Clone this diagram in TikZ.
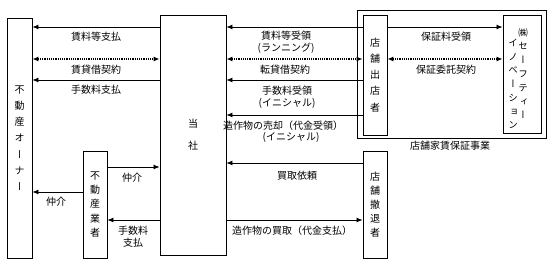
\documentclass[tikz,border=0pt]{standalone}
\usepackage{fontspec}
\setmainfont{Noto Sans CJK JP}
\newfontfamily\vjp[RawFeature=+vert]{Noto Sans CJK JP}
\newfontfamily\hjp{Noto Sans CJK JP}
\usetikzlibrary{arrows.meta}
\begin{document}
\begin{tikzpicture}[x=1pt,y=-1pt,
  box/.style={draw,line width=0.9pt,inner sep=0pt,align=center},
  lbl/.style={inner sep=0pt,align=center,font=\fontsize{10}{11.5}\selectfont},
  arr/.style={line width=0.85pt,-{Latex[length=6pt,width=5pt]}},
  dotarr/.style={line width=1.2pt,dash pattern=on 1.1pt off 1.1pt,{Latex[length=6pt,width=5pt]}-{Latex[length=6pt,width=5pt]}}]
\useasboundingbox (0,0) rectangle (554,267);
% frame
\node[draw,line width=0.9pt,minimum width=189pt,minimum height=128pt,inner sep=0pt] (frame) at (451.5,74) {};
% boxes
\node[box,minimum width=25pt,minimum height=240pt,font=\vjp\fontsize{10}{16.2}\selectfont] (owner) at (19.5,138) {不\\動\\産\\オ\\ー\\ナ\\ー};
\node[box,minimum width=66pt,minimum height=240pt,font=\fontsize{10}{22}\selectfont] (tosha) at (193,135) {当\\社};
\node[box,minimum width=24pt,minimum height=120pt,font=\vjp\fontsize{10}{16.2}\selectfont] (shuten) at (375,75) {店\\舗\\出\\店\\者};
\node[box,minimum width=38pt,minimum height=118pt] (safety) at (522,74) {};
\node[lbl,font=\vjp\fontsize{9.5}{13.8}\selectfont] (safetyA) at (523,73.5) {{\hjp ㈱}\\セ\\ー\\フ\\テ\\ィ\\ー};
\node[lbl,font=\vjp\fontsize{9.5}{13.7}\selectfont] (safetyB) at (513,84) {イ\\ノ\\ベ\\ー\\シ\\ョ\\ン};
\node[box,minimum width=24pt,minimum height=107pt,font=\vjp\fontsize{10}{14}\selectfont] (tettai) at (375,204.5) {店\\舗\\撤\\退\\者};
\node[box,minimum width=24pt,minimum height=107pt,font=\vjp\fontsize{10}{14.2}\selectfont] (fudosan) at (95,204.5) {不\\動\\産\\業\\者};
% connectors left
\draw[arr] (tosha.west |- 0,27) -- (owner.east |- 0,27);
\draw[dotarr] (owner.east |- 0,59) -- (tosha.west |- 0,59);
\draw[arr] (tosha.west |- 0,80) -- (owner.east |- 0,80);
% connectors right
\draw[arr] (shuten.west |- 0,27) -- (tosha.east |- 0,27);
\draw[dotarr] (tosha.east |- 0,59) -- (shuten.west |- 0,59);
\draw[arr] (shuten.west |- 0,80) -- (tosha.east |- 0,80);
\draw[arr] (shuten.west |- 0,115) -- (tosha.east |- 0,115);
\draw[arr] (shuten.east |- 0,27) -- (safety.west |- 0,27);
\draw[dotarr] (shuten.east |- 0,59) -- (safety.west |- 0,59);
\draw[arr] (tettai.west |- 0,163) -- (tosha.east |- 0,163);
\draw[arr] (tosha.east |- 0,220) -- (tettai.west |- 0,220);
% connectors bottom left
\draw[arr] (fudosan.east |- 0,167) -- (tosha.west |- 0,167);
\draw[arr] (tosha.west |- 0,220) -- (fudosan.east |- 0,220);
\draw[arr] (fudosan.west |- 0,192) -- (owner.east |- 0,192);
% labels
\node[lbl] (l1) at (96,37) {賃料等支払};
\node[lbl] (l2) at (96,70) {賃貸借契約};
\node[lbl] (l3) at (96,90) {手数料支払};
\node[lbl] (r1) at (286,42.5) {賃料等受領\\(ランニング)};
\node[lbl] (r2) at (285,70) {転貸借契約};
\node[lbl] (r3) at (287,97.5) {手数料受領\\(イニシャル)};
\node[lbl] (r4a) at (283,125.5) {造作物の売却（代金受領）};
\node[lbl] (r4b) at (291,137) {(イニシャル)};
\node[lbl] (s1) at (446,37) {保証料受領};
\node[lbl] (s2) at (446,70) {保証委託契約};
\node[lbl] (fr) at (450,146) {店舗家賃保証事業};
\node[lbl] (t1) at (297,176) {買取依頼};
\node[lbl] (t2) at (292,231) {造作物の買取（代金支払）};
\node[lbl] (b1) at (132,178) {仲介};
\node[lbl] (b2) at (56,202) {仲介};
\node[lbl] (b3) at (133,236.5) {手数料\\支払};
\end{tikzpicture}
\end{document}
